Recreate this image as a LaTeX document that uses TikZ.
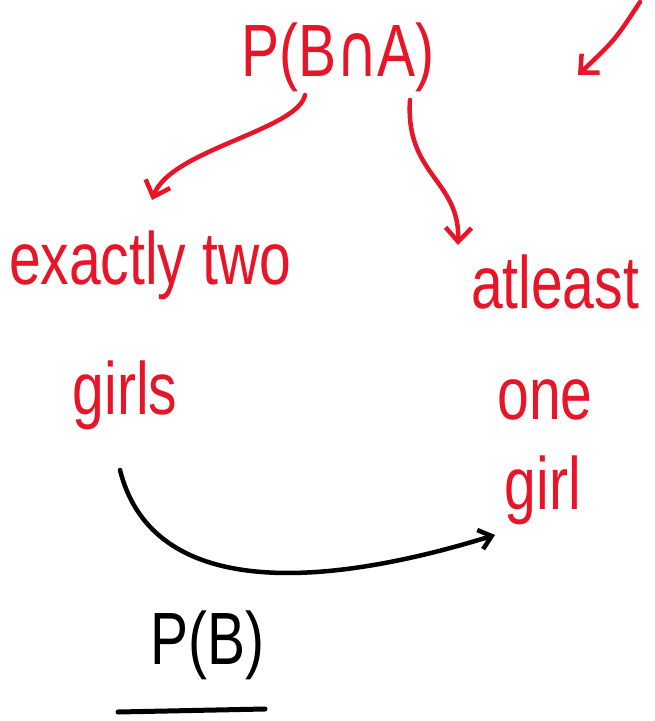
\documentclass[tikz,border=0pt]{standalone}
\usepackage{fontspec}
\setmainfont{Liberation Sans}
\newfontfamily\symfont{DejaVu Sans}
\usetikzlibrary{arrows.meta}
\definecolor{ink}{RGB}{232,20,40}
\newcommand{\tallbox}[1]{\scalebox{1}[1.3]{#1}}
\tikzset{
  redtxt/.style={text=ink, font=\fontsize{57}{60}\selectfont, inner sep=0pt},
  blacktxt/.style={text=black, font=\fontsize{57}{60}\selectfont, inner sep=0pt},
  redarrow/.style={draw=ink, line width=4.5pt, line cap=round, line join=round, -{Straight Barb[length=14pt,width=26pt,line width=4.5pt]}},
  blackarrow/.style={draw=black, line width=4.5pt, line cap=round, -{Straight Barb[length=12pt,width=20pt,line width=4.5pt]}}
}
\begin{document}
\begin{tikzpicture}[x=1pt,y=-1pt]
\useasboundingbox (0,0) rectangle (654,721);
\node[redtxt] (pba) at (338,57) {\tallbox{P(B{\symfont ∩}A)}};
\node[redtxt] (ex) at (150,265) {\tallbox{exactly two}};
\node[redtxt] (girls) at (125,395) {\tallbox{girls}};
\node[redtxt] (atl) at (555,282) {\tallbox{atleast}};
\node[redtxt] (one) at (545,400) {\tallbox{one}};
\node[redtxt] (girl) at (543,490) {\tallbox{girl}};
\node[blacktxt] (pb) at (207,645) {\tallbox{P(B)}};
\coordinate (t0) at (640,2);
\coordinate (t1) at (578,75);
\coordinate (l0) at (305,95);
\coordinate (l1) at (152,200);
\coordinate (r0) at (410,100);
\coordinate (r1) at (458,245);
\coordinate (b0) at (120,470);
\coordinate (b1) at (495,535);
\coordinate (u0) at (118,712);
\coordinate (u1) at (265,709);
\draw[redarrow] (t0) .. controls (615,40) .. (t1);
\draw[redarrow] (l0) .. controls (298,130) and (170,150) .. (l1);
\draw[redarrow] (r0) .. controls (405,175) and (460,180) .. (r1);
\draw[blackarrow] (b0) .. controls (150,590) and (300,595) .. (b1);
\draw[black, line width=5pt, line cap=round] (u0) -- (u1);
\end{tikzpicture}
\end{document}
